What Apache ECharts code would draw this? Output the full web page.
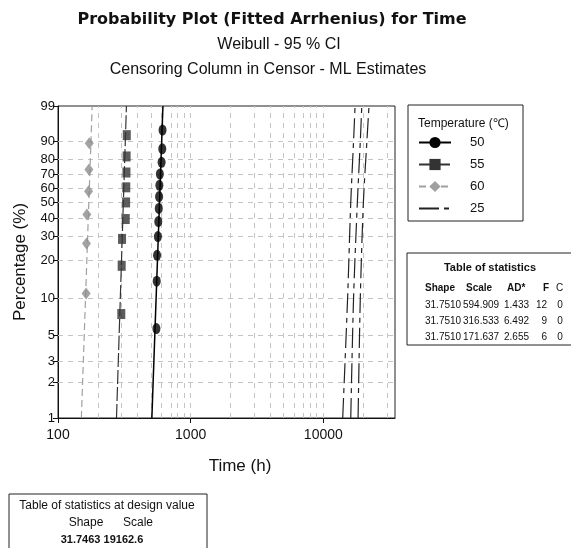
<!DOCTYPE html>
<html>
<head>
<meta charset="utf-8">
<script src="https://cdn.jsdelivr.net/npm/echarts@6/dist/echarts.min.js"></script>
<style>
html,body{margin:0;padding:0;background:#fff}
#chart{width:571px;height:548px}
</style>
</head>
<body>
<div id="chart"></div>
<script>
// axis ticks
var pctTicks = [1, 2, 3, 5, 10, 20, 30, 40, 50, 60, 70, 80, 90, 99];
var timeTicks = [100, 1000, 10000];
var gridTimes = [200, 300, 400, 500, 600, 700, 800, 900, 1000, 2000, 3000, 4000, 5000, 6000, 7000, 8000, 9000, 10000, 20000, 30000];
var timeMin = 100, timeMax = 34700;

// failure times + median ranks (%)
var time50 = [552, 555, 558, 566, 570, 575, 578, 581, 586, 604, 611, 614];
var pct50 = [5.65, 13.71, 21.77, 29.84, 37.90, 45.97, 54.03, 62.10, 70.16, 78.23, 86.29, 94.35];
var time55 = [300, 302, 304, 324, 326, 327, 328, 329, 330];
var pct55 = [7.45, 18.09, 28.72, 39.36, 50.00, 60.64, 71.28, 81.91, 92.55];
var time60 = [163, 164, 165, 170, 171, 172];
var pct60 = [10.94, 26.56, 42.19, 57.81, 73.44, 89.06];

// fitted lines (time at 1% and 99%)
var fitPct = [1, 99];
var fit50 = [510, 618];
var fit55 = [276, 328];
var fit60 = [150, 181];

// design value (25 C) fit and 95% CI
var ciPct = [1, 10, 50, 90, 99];
var lower25 = [14000, 15240, 16100, 16900, 17350];
var fit25 = [16100, 16900, 18050, 19000, 19500];
var upper25 = [18280, 19000, 20040, 21300, 22100];

// tables
var statShape = ['31.7510', '31.7510', '31.7510'];
var statScale = ['594.909', '316.533', '171.637'];
var statAD = ['1.433', '6.492', '2.655'];
var statF = ['12', '9', '6'];
var statC = ['0', '0', '0'];
var designShape = '31.7463';
var designScale = '19162.6';

var weib = function (p) { return Math.log(-Math.log(1 - p / 100)); };
var lg = function (t) { return Math.log10(t); };
function pts(times, pcts) {
  return times.map(function (t, i) { return [lg(t), weib(pcts[i])]; });
}

var sans = 'Liberation Sans';

var chart = echarts.init(document.getElementById('chart'));

var gridLines = gridTimes.map(function (t) { return { xAxis: lg(t) }; })
  .concat(pctTicks.slice(1, -1).map(function (p) { return { yAxis: weib(p) }; }));

function fitLine(name, data, color, dash, width) {
  return {
    name: name, type: 'line', data: data, showSymbol: false, z: 3,
    lineStyle: { color: color, type: dash, width: width || 1.2 },
    itemStyle: { color: color }
  };
}

var ciStyle = { color: '#222', type: [20, 5, 5, 5], width: 1.2 };

var statTexts = [];
var rowY = [305, 321, 337];
var tf = '10px ' + sans;
rowY.forEach(function (y, i) {
  statTexts.push({ type: 'text', x: 425, y: y, style: { text: statShape[i], font: tf, fill: '#111', verticalAlign: 'middle' } });
  statTexts.push({ type: 'text', x: 463, y: y, style: { text: statScale[i], font: tf, fill: '#111', verticalAlign: 'middle' } });
  statTexts.push({ type: 'text', x: 504, y: y, style: { text: statAD[i], font: tf, fill: '#111', verticalAlign: 'middle' } });
  statTexts.push({ type: 'text', x: 547, y: y, style: { text: statF[i], font: tf, fill: '#111', align: 'right', verticalAlign: 'middle' } });
  statTexts.push({ type: 'text', x: 560, y: y, style: { text: statC[i], font: tf, fill: '#111', align: 'center', verticalAlign: 'middle' } });
});

var option = {
  animation: false,
  backgroundColor: '#fff',
  grid: { left: 58, right: 176, top: 106, bottom: 130, show: true, borderColor: '#222', borderWidth: 1 },
  xAxis: {
    type: 'value', min: lg(timeMin), max: lg(timeMax),
    axisLine: { onZero: false, lineStyle: { color: '#111', width: 1 } },
    axisTick: { customValues: timeTicks.map(lg), length: 5, lineStyle: { color: '#111' } },
    axisLabel: {
      customValues: timeTicks.map(lg), margin: 10, fontSize: 14, fontFamily: sans, color: '#111',
      formatter: function (v) { return String(Math.round(Math.pow(10, v))); }
    },
    splitLine: { show: false },
    name: 'Time (h)', nameLocation: 'middle', nameGap: 40,
    nameTextStyle: { fontSize: 17, fontFamily: sans, color: '#111', padding: [0, 0, 0, 27] }
  },
  yAxis: {
    type: 'value', min: weib(1), max: weib(99),
    axisLine: { onZero: false, lineStyle: { color: '#111', width: 1 } },
    axisTick: { customValues: pctTicks.map(weib), length: 5, lineStyle: { color: '#111' } },
    axisLabel: {
      customValues: pctTicks.map(weib), margin: 3, fontSize: 13, fontFamily: sans, color: '#111',
      formatter: function (v) {
        for (var i = 0; i < pctTicks.length; i++) {
          if (Math.abs(weib(pctTicks[i]) - v) < 1e-6) return String(pctTicks[i]);
        }
        return '';
      }
    },
    splitLine: { show: false },
    name: 'Percentage (%)', nameLocation: 'middle', nameGap: 29, nameRotate: 90,
    nameTextStyle: { fontSize: 17, fontFamily: sans, color: '#111' }
  },
  legend: {
    data: ['50', '55', '60', { name: '25', itemStyle: { opacity: 0 } }],
    orient: 'vertical', left: 413, top: 131,
    itemWidth: 32, itemHeight: 14, itemGap: 9,
    textStyle: { fontSize: 13, fontFamily: sans, color: '#111', padding: [0, 0, 0, 14] }
  },
  series: [
    {
      type: 'line', data: [], silent: true, z: 1,
      markLine: {
        silent: true, symbol: 'none', label: { show: false }, animation: false, z: 1,
        lineStyle: { color: '#c4c4c4', type: [5, 5], width: 1 },
        data: gridLines
      }
    },
    Object.assign(fitLine('50', pts(fit50, fitPct), '#000', 'solid', 1.5), { symbol: 'circle', symbolSize: [8, 11] }),
    Object.assign(fitLine('55', pts(fit55, fitPct), '#333', [14, 3]), { symbol: 'rect', symbolSize: [8, 10] }),
    Object.assign(fitLine('60', pts(fit60, fitPct), '#a0a0a0', [7, 4]), { symbol: 'diamond', symbolSize: [9, 12] }),
    { name: '25', type: 'line', data: pts(fit25, ciPct), symbol: 'none', smooth: 0.3, lineStyle: ciStyle, itemStyle: { color: '#222' }, z: 3 },
    { name: '25', type: 'line', data: pts(lower25, ciPct), symbol: 'none', smooth: 0.3, lineStyle: ciStyle, itemStyle: { color: '#222' }, z: 3 },
    { name: '25', type: 'line', data: pts(upper25, ciPct), symbol: 'none', smooth: 0.3, lineStyle: ciStyle, itemStyle: { color: '#222' }, z: 3 },
    { name: '50', type: 'scatter', data: pts(time50, pct50), symbol: 'circle', symbolSize: [8, 11], itemStyle: { color: '#000' }, z: 6 },
    { name: '55', type: 'scatter', data: pts(time55, pct55), symbol: 'rect', symbolSize: [8, 10], itemStyle: { color: '#333' }, z: 6 },
    { name: '60', type: 'scatter', data: pts(time60, pct60), symbol: 'diamond', symbolSize: [9, 12], itemStyle: { color: '#8c8c8c' }, z: 6 }
  ],
  graphic: [
    { type: 'text', x: 272, y: 20, style: { text: 'Probability Plot (Fitted Arrhenius) for Time', font: 'bold 16px DejaVu Sans', fill: '#111', align: 'center', verticalAlign: 'middle' } },
    { type: 'text', x: 279, y: 45, style: { text: 'Weibull - 95 % CI', font: '16px ' + sans, fill: '#111', align: 'center', verticalAlign: 'middle' } },
    { type: 'text', x: 268, y: 70, style: { text: 'Censoring Column in Censor - ML Estimates', font: '16px ' + sans, fill: '#111', align: 'center', verticalAlign: 'middle' } },
    // legend box
    { type: 'rect', shape: { x: 408, y: 105, width: 115, height: 116 }, style: { fill: 'none', stroke: '#222', lineWidth: 1 } },
    { type: 'text', x: 418, y: 124, style: { text: 'Temperature (\u2103)', font: '12px ' + sans, fill: '#111', verticalAlign: 'middle' } },
    // statistics table
    { type: 'rect', shape: { x: 407, y: 253, width: 170, height: 92 }, style: { fill: 'none', stroke: '#222', lineWidth: 1 } },
    { type: 'text', x: 490, y: 268, style: { text: 'Table of statistics', font: 'bold 11px ' + sans, fill: '#111', align: 'center', verticalAlign: 'middle' } },
    { type: 'text', x: 425, y: 288, style: { text: 'Shape', font: 'bold 10px ' + sans, fill: '#111', verticalAlign: 'middle' } },
    { type: 'text', x: 466, y: 288, style: { text: 'Scale', font: 'bold 10px ' + sans, fill: '#111', verticalAlign: 'middle' } },
    { type: 'text', x: 507, y: 288, style: { text: 'AD*', font: 'bold 10px ' + sans, fill: '#111', verticalAlign: 'middle' } },
    { type: 'text', x: 543, y: 288, style: { text: 'F', font: 'bold 10px ' + sans, fill: '#111', verticalAlign: 'middle' } },
    { type: 'text', x: 556, y: 288, style: { text: 'C', font: '10px ' + sans, fill: '#111', verticalAlign: 'middle' } },
    // design value table
    { type: 'rect', shape: { x: 9, y: 494, width: 198, height: 60 }, style: { fill: 'none', stroke: '#222', lineWidth: 1 } },
    { type: 'text', x: 107, y: 506, style: { text: 'Table of statistics at design value', font: '12px ' + sans, fill: '#111', align: 'center', verticalAlign: 'middle' } },
    { type: 'text', x: 86, y: 523, style: { text: 'Shape', font: '12px ' + sans, fill: '#111', align: 'center', verticalAlign: 'middle' } },
    { type: 'text', x: 138, y: 523, style: { text: 'Scale', font: '12px ' + sans, fill: '#111', align: 'center', verticalAlign: 'middle' } },
    { type: 'text', x: 102, y: 540, style: { text: designShape + ' ' + designScale, font: 'bold 11px ' + sans, fill: '#111', align: 'center', verticalAlign: 'middle' } }
  ].concat(statTexts)
};

chart.setOption(option);
</script>
</body>
</html>
